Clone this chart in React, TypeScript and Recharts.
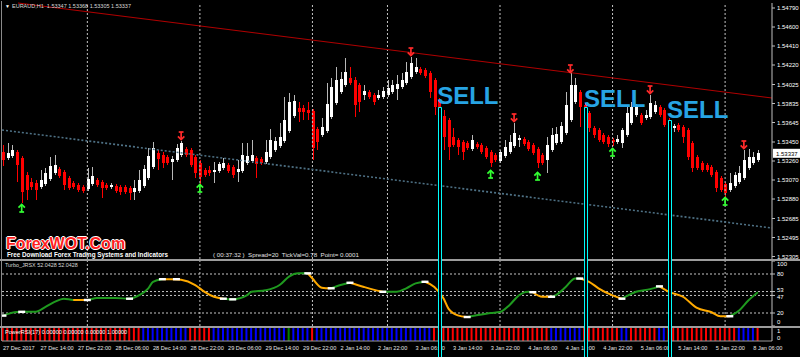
import React from 'react';
import { ComposedChart, Bar, Line, Scatter, XAxis, YAxis, ReferenceLine, ReferenceArea } from 'recharts';

const FONT = '"Liberation Sans", Arial, sans-serif';

// ---------- main chart data (EURAUD H1) ----------
const opens = [
  1.5335,1.5329,1.5331,1.5335,1.5329,1.5312,1.5305,1.5304,1.5300,1.5303,
  1.5308,1.5314,1.5318,1.5315,1.5309,1.5304,1.5302,1.5300,1.5298,1.5303,
  1.5307,1.5305,1.5302,1.5300,1.5301,1.5300,1.5300,1.5299,1.5295,1.5296,
  1.5301,1.5309,1.5320,1.5334,1.5332,1.5330,1.5325,1.5327,1.5332,1.5338,
  1.5337,1.5330,1.5324,1.5317,1.5317,1.5315,1.5316,1.5319,1.5322,1.5320,
  1.5315,1.5316,1.5324,1.5326,1.5329,1.5328,1.5325,1.5330,1.5337,1.5341,
  1.5346,1.5356,1.5371,1.5379,1.5379,1.5377,1.5376,1.5358,1.5352,1.5356,
  1.5370,1.5384,1.5395,1.5402,1.5409,1.5407,1.5402,1.5392,1.5395,1.5392,
  1.5389,1.5390,1.5392,1.5395,1.5398,1.5400,1.5404,1.5410,1.5415,1.5418,
  1.5417,1.5414,1.5407,1.5387,1.5371,1.5367,1.5350,1.5347,1.5345,1.5344,
  1.5338,1.5343,1.5342,1.5339,1.5335,1.5332,1.5326,1.5331,1.5335,1.5341,
  1.5347,1.5348,1.5345,1.5342,1.5338,1.5332,1.5327,1.5337,1.5344,1.5345,
  1.5354,1.5367,1.5385,1.5395,1.5382,1.5374,1.5359,1.5357,1.5352,1.5350,
  1.5347,1.5345,1.5344,1.5352,1.5364,1.5372,1.5372,1.5369,1.5370,1.5375,
  1.5380,1.5377,1.5367,1.5359,1.5362,1.5360,1.5357,1.5344,1.5330,1.5324,
  1.5322,1.5320,1.5315,1.5309,1.5303,1.5297,1.5301,1.5305,1.5309,1.5319,
  1.5324,1.5327,
];
const highs = [
  1.5342,1.5344,1.5342,1.5337,1.5331,1.5315,1.5309,1.5307,1.5317,1.5319,
  1.5330,1.5332,1.5320,1.5317,1.5311,1.5306,1.5304,1.5302,1.5319,1.5320,
  1.5309,1.5307,1.5304,1.5304,1.5303,1.5302,1.5302,1.5301,1.5307,1.5317,
  1.5322,1.5339,1.5345,1.5337,1.5335,1.5332,1.5331,1.5343,1.5346,1.5340,
  1.5339,1.5332,1.5327,1.5319,1.5321,1.5325,1.5325,1.5329,1.5324,1.5322,
  1.5327,1.5344,1.5344,1.5347,1.5331,1.5330,1.5347,1.5358,1.5350,1.5364,
  1.5390,1.5394,1.5392,1.5385,1.5382,1.5385,1.5378,1.5360,1.5369,1.5404,
  1.5409,1.5420,1.5415,1.5429,1.5420,1.5410,1.5404,1.5402,1.5397,1.5394,
  1.5397,1.5400,1.5407,1.5407,1.5412,1.5414,1.5425,1.5430,1.5429,1.5420,
  1.5419,1.5416,1.5409,1.5389,1.5377,1.5369,1.5359,1.5349,1.5347,1.5346,
  1.5352,1.5345,1.5344,1.5341,1.5337,1.5334,1.5337,1.5347,1.5352,1.5364,
  1.5352,1.5350,1.5347,1.5344,1.5340,1.5334,1.5350,1.5359,1.5360,1.5365,
  1.5395,1.5414,1.5409,1.5397,1.5384,1.5376,1.5361,1.5359,1.5354,1.5352,
  1.5349,1.5352,1.5359,1.5380,1.5385,1.5383,1.5374,1.5377,1.5392,1.5386,
  1.5382,1.5379,1.5369,1.5363,1.5364,1.5362,1.5359,1.5346,1.5332,1.5326,
  1.5324,1.5322,1.5317,1.5311,1.5305,1.5314,1.5315,1.5321,1.5337,1.5338,
  1.5335,1.5337,
];
const lows = [
  1.5321,1.5327,1.5329,1.5305,1.5284,1.5287,1.5297,1.5287,1.5298,1.5301,
  1.5306,1.5312,1.5309,1.5297,1.5297,1.5298,1.5295,1.5294,1.5296,1.5301,
  1.5300,1.5289,1.5297,1.5298,1.5294,1.5292,1.5293,1.5287,1.5287,1.5294,
  1.5299,1.5307,1.5318,1.5317,1.5319,1.5322,1.5307,1.5325,1.5330,1.5330,
  1.5320,1.5309,1.5302,1.5310,1.5311,1.5304,1.5314,1.5317,1.5314,1.5309,
  1.5305,1.5314,1.5322,1.5324,1.5309,1.5322,1.5323,1.5328,1.5335,1.5339,
  1.5344,1.5354,1.5369,1.5365,1.5367,1.5367,1.5327,1.5337,1.5350,1.5354,
  1.5368,1.5382,1.5393,1.5400,1.5402,1.5370,1.5375,1.5387,1.5388,1.5382,
  1.5387,1.5388,1.5390,1.5393,1.5387,1.5398,1.5402,1.5408,1.5413,1.5412,
  1.5409,1.5389,1.5372,1.5362,1.5337,1.5327,1.5340,1.5332,1.5327,1.5337,
  1.5336,1.5338,1.5333,1.5328,1.5320,1.5325,1.5324,1.5329,1.5333,1.5339,
  1.5340,1.5341,1.5336,1.5332,1.5319,1.5322,1.5314,1.5335,1.5342,1.5343,
  1.5352,1.5365,1.5383,1.5360,1.5367,1.5355,1.5349,1.5345,1.5343,1.5340,
  1.5341,1.5343,1.5339,1.5350,1.5362,1.5370,1.5362,1.5367,1.5368,1.5373,
  1.5370,1.5360,1.5360,1.5355,1.5355,1.5344,1.5327,1.5315,1.5317,1.5315,
  1.5315,1.5310,1.5295,1.5295,1.5289,1.5295,1.5299,1.5303,1.5307,1.5317,
  1.5322,1.5325,
];
const closes = [
  1.5327,1.5334,1.5337,1.5322,1.5295,1.5297,1.5300,1.5297,1.5307,1.5314,
  1.5321,1.5322,1.5311,1.5302,1.5299,1.5300,1.5297,1.5296,1.5308,1.5311,
  1.5302,1.5299,1.5299,1.5302,1.5296,1.5295,1.5295,1.5294,1.5299,1.5307,
  1.5318,1.5331,1.5339,1.5328,1.5324,1.5324,1.5328,1.5339,1.5344,1.5332,
  1.5322,1.5314,1.5310,1.5312,1.5314,1.5317,1.5323,1.5324,1.5316,1.5312,
  1.5318,1.5332,1.5331,1.5332,1.5323,1.5324,1.5335,1.5347,1.5346,1.5350,
  1.5367,1.5385,1.5386,1.5375,1.5375,1.5374,1.5339,1.5345,1.5360,1.5383,
  1.5400,1.5407,1.5408,1.5415,1.5404,1.5382,1.5385,1.5396,1.5390,1.5385,
  1.5392,1.5396,1.5399,1.5402,1.5403,1.5407,1.5415,1.5424,1.5420,1.5414,
  1.5411,1.5395,1.5380,1.5369,1.5350,1.5340,1.5342,1.5340,1.5335,1.5339,
  1.5347,1.5340,1.5335,1.5330,1.5324,1.5327,1.5335,1.5340,1.5345,1.5354,
  1.5349,1.5343,1.5338,1.5334,1.5324,1.5324,1.5342,1.5352,1.5353,1.5361,
  1.5382,1.5402,1.5402,1.5380,1.5372,1.5359,1.5352,1.5347,1.5345,1.5343,
  1.5345,1.5348,1.5357,1.5374,1.5380,1.5380,1.5364,1.5372,1.5384,1.5382,
  1.5372,1.5362,1.5362,1.5361,1.5357,1.5350,1.5330,1.5319,1.5319,1.5317,
  1.5317,1.5312,1.5299,1.5297,1.5294,1.5304,1.5312,1.5314,1.5327,1.5330,
  1.5330,1.5334,
];

const priceTicks = [1.5479, 1.546, 1.5441, 1.5422, 1.54025, 1.53835, 1.53645, 1.5345, 1.5326, 1.5307, 1.5288, 1.52685, 1.52495, 1.52305];
const currentPrice = 1.53337;

const timeIdx = [0, 8, 16, 24, 32, 40, 48, 56, 64, 72, 80, 88, 96, 104, 112, 120, 128, 136, 144, 152, 160];
const timeLabels = ['27 Dec 2017', '27 Dec 14:00', '27 Dec 22:00', '28 Dec 06:00', '28 Dec 14:00', '28 Dec 22:00', '29 Dec 06:00', '29 Dec 14:00', '29 Dec 22:00', '2 Jan 14:00', '2 Jan 22:00', '3 Jan 06:00', '3 Jan 14:00', '3 Jan 22:00', '4 Jan 06:00', '4 Jan 14:00', '4 Jan 22:00', '5 Jan 06:00', '5 Jan 14:00', '5 Jan 22:00', '8 Jan 06:00'];
const gridIdx = [18, 42, 66, 82, 106, 130, 154];

const downArrowIdx = [38, 87, 109, 121, 138, 158];
const downArrowPrice = [1.5351, 1.5435, 1.5369, 1.5418, 1.5397, 1.5342];
const upArrowIdx = [4, 42, 104, 114, 130, 154];
const upArrowPrice = [1.5279, 1.5299, 1.5313, 1.5311, 1.5335, 1.5286];

// trend lines [idx, price]
const resistanceLine = [[3.2, 1.5484], [164, 1.5389]];
const supportLine = [[-0.2, 1.5357], [164, 1.5259]];

// SELL signals
const sellIdx = [92.6, 123.9, 141.6];
const sellPrice = [1.5383, 1.538, 1.5369];
const signalFrom = [92.88, 124.02, 141.93];
const signalTo = [93.52, 124.66, 142.57];
const signalTop = [1.53795, 1.53795, 1.53665];

// ---------- Turbo_JRSX ----------
const jrsxIdx = [0,3,5,7,9,11,13,15,18,20,24,27,29,31,32,34,36,38,41,43,45,47,49,52,53,56,59,61,63,65,66,68,70,72,74,77,79,81,84,86,88,90,92,94,95,97,99,101,104,106,108,110,112,113,115,117,118,120,122,123,125,127,130,132,133,135,138,140,142,145,148,151,153,155,157,159,161];
const jrsxVal = [16,21.6,22,22,29,37,42,40,40,43,43,42,47,58,68,72,72,71,63,52.6,45,42,41,47,52.6,55,63,76,81,81,73,59,58,63,66.5,60,56,52.6,52.6,58,65.6,68,60,42,26.8,16.4,13.8,16.4,20,21.5,32,47,52.6,52,45,45,48,60,73,73,68,58,47,42,46,52.6,56.7,61,52.6,45,27.8,21.5,15,15,24,39.7,52.04];
const jrsxSeg = 'gggggggogg' + 'gggggooooo' + 'oggggggggo' + 'ooggoooggg' + 'gooooogggg' + 'gggooggggo' + 'oooggggooo' + 'ooogggg';
const whiteIdx = [0,4,18,27,34,37,47,49,65,70,74,81,90,99,113,117,123,132,140,155];
const whiteVal = [16,21.8,40,42,72,72,42,41,81,58,66.5,52.6,68,13.8,52,45,73,42,61,15];
const jrsxLevels = [80, 53, 47, 20];
const jrsxTicks = [0, 20, 47, 53, 80, 100];

// ---------- PowerRSI(17) ----------
const powerRuns: [string, number][] = [['R',30],['B',10],['R',5],['B',16],['G',1],['B',4],['R',1],['B',25],['R',25],['B',7],['R',8],['B',2],['R',6],['B',2],['R',15],['B',4],['R',1]];
const powerColorMap: Record<string, string> = { R: '#ff0000', B: '#0000ff', G: '#008000' };

// ---------- built tables ----------
const X_DOMAIN: [number, number] = [-0.2, 164];
const candles = opens.map((o, i) => ({ i, open: o, high: highs[i], low: lows[i], close: closes[i] }));
const downArrows = downArrowIdx.map((i, k) => ({ i, p: downArrowPrice[k] }));
const upArrows = upArrowIdx.map((i, k) => ({ i, p: upArrowPrice[k] }));
const sellData = sellIdx.map((i, k) => ({ i, p: sellPrice[k] }));
const jrsxData = jrsxIdx.map((i, k) => {
  const after = jrsxSeg[k];
  const before = k > 0 ? jrsxSeg[k - 1] : '';
  return {
    i,
    g: after === 'g' || before === 'g' ? jrsxVal[k] : null,
    o: after === 'o' || before === 'o' ? jrsxVal[k] : null,
  };
});
const whiteData = whiteIdx.map((i, k) => ({ i, v: whiteVal[k] }));
const powerColors: string[] = [];
powerRuns.forEach(([c, n]) => { for (let k = 0; k < n; k++) powerColors.push(c); });
const powerData = powerColors.map((c, i) => ({ i, v: 1, c }));

// ---------- shapes ----------
const Candle = (props: any) => {
  const { x, y, width, height, payload } = props;
  if (!payload) return null;
  const { open, close, high, low } = payload;
  const up = close >= open;
  const yTop = Math.min(y, y + height);
  const h = Math.abs(height);
  const k = high - low > 0 ? h / (high - low) : 0;
  const top = yTop + (high - Math.max(open, close)) * k;
  const bot = yTop + (high - Math.min(open, close)) * k;
  const cx = Math.round(x + width / 2) + 0.5;
  const color = up ? '#ffffff' : '#ff0000';
  return (
    <g>
      <line x1={cx} x2={cx} y1={yTop} y2={yTop + h} stroke={up ? '#b8b8b8' : '#ff0000'} strokeWidth={1} />
      <rect x={cx - 1.5} y={top} width={3} height={Math.max(1, bot - top)} fill={color} />
    </g>
  );
};

const DownArrow = (p: any) => {
  const { cx, cy } = p;
  return (
    <g stroke="#ff2a2a" strokeWidth={1.7} fill="none">
      <line x1={cx} y1={cy - 4} x2={cx} y2={cy + 3.5} />
      <polyline points={`${cx - 3.2},${cy + 0.3} ${cx},${cy + 3.5} ${cx + 3.2},${cy + 0.3}`} />
      <line x1={cx - 2.4} y1={cy - 4} x2={cx + 2.4} y2={cy - 4} />
    </g>
  );
};
const UpArrow = (p: any) => {
  const { cx, cy } = p;
  return (
    <g stroke="#33ff33" strokeWidth={1.7} fill="none">
      <line x1={cx} y1={cy + 4} x2={cx} y2={cy - 3.5} />
      <polyline points={`${cx - 3.2},${cy - 0.3} ${cx},${cy - 3.5} ${cx + 3.2},${cy - 0.3}`} />
      <line x1={cx - 2.4} y1={cy + 4} x2={cx + 2.4} y2={cy + 4} />
    </g>
  );
};
const WhiteMark = (p: any) => <rect x={p.cx - 3.5} y={p.cy - 1.2} width={7} height={2.4} fill="#ffffff" />;
const SellText = (p: any) => (
  <text x={p.cx} y={p.cy} fill="#27a4e4" fontSize={24} fontWeight="bold" fontFamily={FONT}>SELL</text>
);

const PriceTick = (p: any) => {
  const { x, y, payload } = p;
  return (
    <g>
      <line x1={x} x2={x + 3} y1={y} y2={y} stroke="#c0c0c0" />
      <text x={x + 5} y={y + 2.2} fill="#ffffff" fontSize={6} fontFamily={FONT}>{Number(payload.value).toFixed(5)}</text>
    </g>
  );
};
const JrsxTick = (p: any) => {
  const { x, y, payload } = p;
  const v = payload.value;
  const dy = v === 100 ? 5 : v === 0 ? -2 : v === 53 ? 0.5 : v === 47 ? 3.5 : 2.2;
  return (
    <g>
      <line x1={x} x2={x + 3} y1={y} y2={y} stroke="#c0c0c0" />
      <text x={x + 5} y={y + dy} fill="#ffffff" fontSize={6} fontFamily={FONT}>{v}</text>
    </g>
  );
};
const PowerTick = (p: any) => {
  const { x, y, payload } = p;
  const v = payload.value;
  return (
    <text x={x + 5} y={y + (v === 1 ? 5 : -1)} fill="#ffffff" fontSize={6} fontFamily={FONT}>{v}</text>
  );
};
const TimeTick = (p: any) => {
  const { x, y, payload } = p;
  const k = timeIdx.indexOf(payload.value);
  return (
    <text x={x} y={y + 9} fill="#e6e6e6" fontSize={5.6} fontFamily={FONT}>{timeLabels[k]}</text>
  );
};
const CurrentPriceLabel = (p: any) => {
  const vb = p.viewBox || {};
  const x = (vb.x || 0) + (vb.width || 0) + 1;
  const y = vb.y || 0;
  return (
    <g>
      <rect x={x} y={y - 4.5} width={27} height={9} fill="#ffffff" />
      <text x={x + 3} y={y + 2.2} fill="#000000" fontSize={6} fontFamily={FONT}>{currentPrice.toFixed(5)}</text>
    </g>
  );
};

const txt = (extra: React.CSSProperties): React.CSSProperties => ({
  position: 'absolute', whiteSpace: 'pre', lineHeight: 1, fontFamily: FONT, ...extra,
});

export default function App() {
  return (
    <div style={{ position: 'absolute', left: 0, top: 0, width: 800, height: 357, background: '#000', overflow: 'hidden' }}>
      <div style={{ position: 'absolute', left: 1, top: 1, width: 1, height: 340, background: '#8a8a8a' }} />

      {/* main price window */}
      <div style={{ position: 'absolute', left: 0, top: 0 }}>
        <ComposedChart width={800} height={262} data={candles} margin={{ top: 3, right: 0, bottom: 3, left: 2 }}>
          <XAxis dataKey="i" type="number" domain={X_DOMAIN} hide allowDataOverflow />
          <YAxis orientation="right" type="number" domain={[1.5228, 1.5484]} ticks={priceTicks} interval={0} width={28}
            tickSize={0} tickMargin={0} tickLine={false} axisLine={{ stroke: '#c0c0c0' }} tick={<PriceTick />} allowDataOverflow />
          {gridIdx.map((g) => (
            <ReferenceLine key={'g' + g} x={g} stroke="#c4c4c4" strokeDasharray="2 2" />
          ))}
          <ReferenceLine segment={[{ x: supportLine[0][0], y: supportLine[0][1] }, { x: supportLine[1][0], y: supportLine[1][1] }]}
            stroke="#4f7286" strokeWidth={1.6} strokeDasharray="2 2" ifOverflow="visible" />
          <ReferenceLine segment={[{ x: resistanceLine[0][0], y: resistanceLine[0][1] }, { x: resistanceLine[1][0], y: resistanceLine[1][1] }]}
            stroke="#b00000" strokeWidth={1.2} ifOverflow="visible" />
          <Bar dataKey={(d: any) => [d.low, d.high]} barSize={3} shape={<Candle />} isAnimationActive={false} />
          <Scatter data={downArrows} dataKey="p" shape={<DownArrow />} isAnimationActive={false} />
          <Scatter data={upArrows} dataKey="p" shape={<UpArrow />} isAnimationActive={false} />
          <ReferenceLine y={currentPrice} stroke="#000" strokeOpacity={0} label={(p: any) => <CurrentPriceLabel {...p} />} />
        </ComposedChart>
      </div>

      <div style={txt({ left: 5, top: 4, fontSize: 5, color: '#ffffff' })}>▼</div>
      <div style={txt({ left: 12, top: 4, fontSize: 5.5, color: '#d8d8d8' })}>EURAUD,H1  1.53347 1.53368 1.53305 1.53337</div>
      <div style={txt({ left: 6, top: 236, fontSize: 16, fontWeight: 'bold', color: '#ff1f1f',
        textShadow: '1px 0 0 #fff, -1px 0 0 #fff, 0 1px 0 #fff, 0 -1px 0 #fff' })}>ForexWOT.Com</div>
      <div style={txt({ left: 7, top: 252, fontSize: 6.3, fontWeight: 'bold', color: '#ffffff' })}>Free Download Forex Trading Systems and Indicators</div>
      <div style={txt({ left: 213, top: 252, fontSize: 6.2, color: '#e0e0e0' })}>( 00:37:32 )  Spread=20  TickVal=0.78  Point= 0.0001</div>

      {/* Turbo_JRSX window */}
      <div style={{ position: 'absolute', left: 0, top: 259, width: 800, height: 65, borderTop: '2px solid #9c9c9c' }}>
        <ComposedChart width={800} height={65} data={jrsxData} margin={{ top: 0, right: 0, bottom: 0, left: 2 }}>
          <XAxis dataKey="i" type="number" domain={X_DOMAIN} hide allowDataOverflow />
          <YAxis orientation="right" type="number" domain={[0, 100]} ticks={jrsxTicks} interval={0} width={28}
            tickSize={0} tickMargin={0} tickLine={false} axisLine={{ stroke: '#c0c0c0' }} tick={<JrsxTick />} allowDataOverflow />
          {gridIdx.map((g) => (
            <ReferenceLine key={'jg' + g} x={g} stroke="#c4c4c4" strokeDasharray="2 2" />
          ))}
          {jrsxLevels.map((l) => (
            <ReferenceLine key={'l' + l} y={l} stroke="#c4c4c4" strokeDasharray="2 2" />
          ))}
          <Line dataKey="g" type="monotone" stroke="#1f9a1f" strokeWidth={2} dot={false} connectNulls={false} isAnimationActive={false} />
          <Line dataKey="o" type="monotone" stroke="#ffaa00" strokeWidth={2} dot={false} connectNulls={false} isAnimationActive={false} />
          <Scatter data={whiteData} dataKey="v" shape={<WhiteMark />} isAnimationActive={false} />
        </ComposedChart>
      </div>
      <div style={txt({ left: 5, top: 263, fontSize: 5.4, color: '#d8d8d8' })}>Turbo_JRSX 52.0428 52.0428</div>

      {/* PowerRSI window + time axis */}
      <div style={{ position: 'absolute', left: 0, top: 326, width: 800, height: 29, borderTop: '2px solid #9c9c9c' }}>
        <ComposedChart width={800} height={29} data={powerData} margin={{ top: 0, right: 0, bottom: 0, left: 2 }}>
          <XAxis dataKey="i" type="number" domain={X_DOMAIN} ticks={timeIdx} interval={0} height={16}
            tickSize={0} tickMargin={0} tickLine={false} axisLine={{ stroke: '#9c9c9c' }} tick={<TimeTick />} allowDataOverflow />
          <YAxis orientation="right" type="number" domain={[0, 1]} ticks={[0, 1]} interval={0} width={28}
            tickSize={0} tickMargin={0} tickLine={false} axisLine={{ stroke: '#c0c0c0' }} tick={<PowerTick />} allowDataOverflow />
          <Bar dataKey="v" barSize={2} isAnimationActive={false}
            shape={(p: any) => <rect x={p.x} y={p.y} width={p.width} height={p.height} fill={powerColorMap[p.payload.c]} />} />
        </ComposedChart>
      </div>
      <div style={txt({ left: 5, top: 330, fontSize: 5.6, color: '#ffffff' })}>PowerRSI(17) 0.00000 0.00000 0.00000 1.00000</div>

      {/* signal annotations */}
      <div style={{ position: 'absolute', left: 0, top: 0, width: 800, height: 357, overflow: 'hidden', pointerEvents: 'none' }}>
        <ComposedChart width={800} height={367} data={sellData} margin={{ top: 0, right: 28, bottom: 0, left: 2 }}>
          <XAxis dataKey="i" type="number" domain={X_DOMAIN} hide allowDataOverflow />
          <YAxis type="number" domain={[1.512, 1.5487]} hide allowDataOverflow />
          {signalFrom.map((f, k) => (
            <ReferenceArea key={'s' + k} x1={f} x2={signalTo[k]} y1={signalTop[k]} y2={1.5125}
              fill="#000000" fillOpacity={1} stroke="#00ffff" strokeWidth={1} ifOverflow="visible" />
          ))}
          <Scatter dataKey="p" shape={<SellText />} isAnimationActive={false} />
        </ComposedChart>
      </div>
    </div>
  );
}
